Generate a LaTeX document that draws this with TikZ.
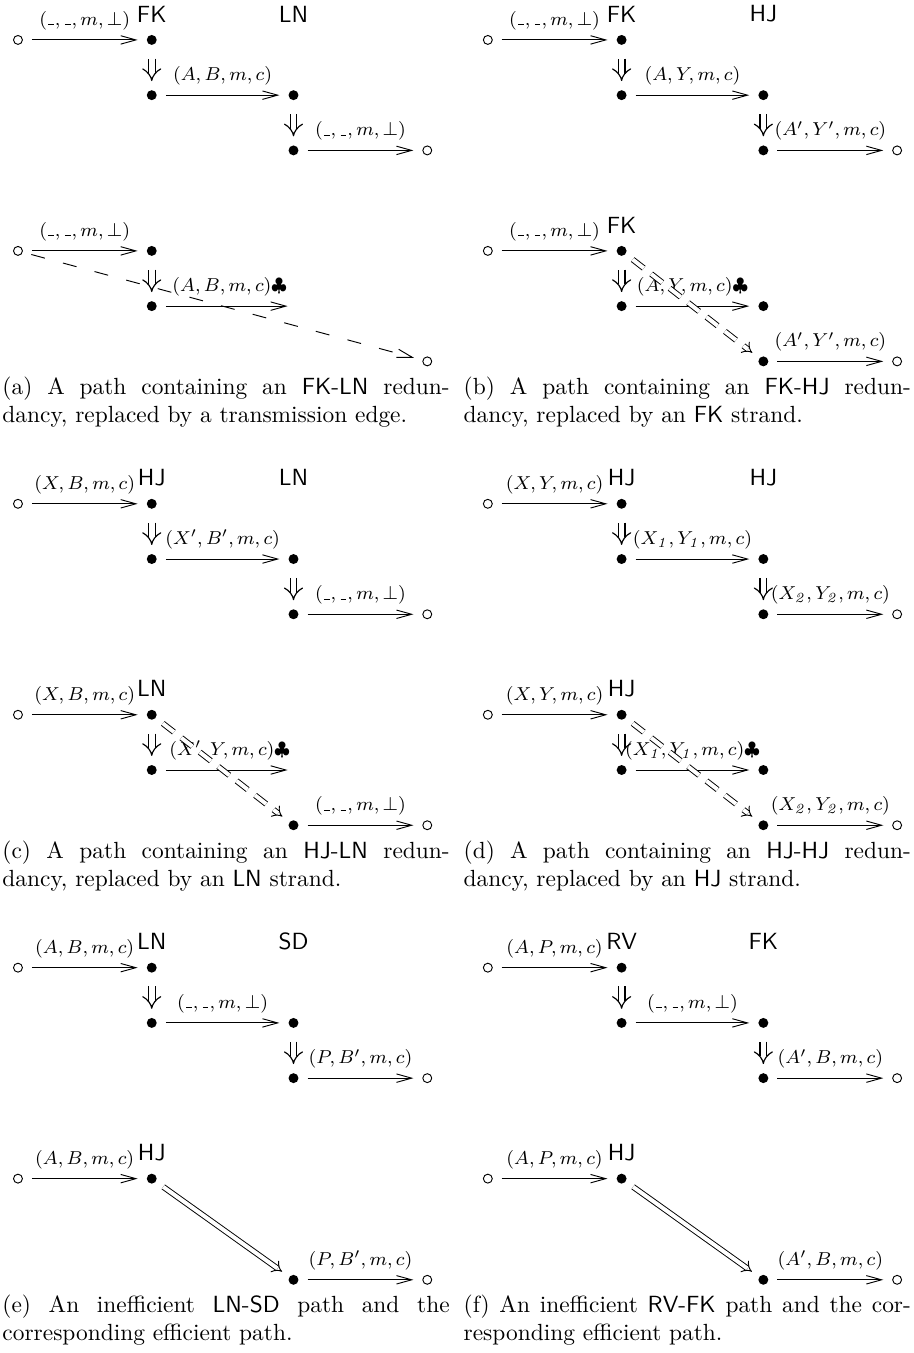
\documentclass[tikz,border=0pt]{standalone}
\usepackage{amsmath}
\usepackage{amssymb}
\usetikzlibrary{arrows.meta, positioning}

\newcommand{\wild}{\text{\kern.06em\rule{.3em}{.4pt}\kern.06em}}

\begin{document}
\begin{tikzpicture}[
        node distance=0.83cm and 2.01cm, on grid,
        dot/.style={fill, circle, inner sep=1.5pt, outer sep=3.9pt},
        hole/.style={draw, circle, inner sep=1.35pt, outer sep=4pt},
        tag/.style={font=\sffamily},
        lab/.style={above=2pt, font=\footnotesize, inner sep=2pt},
        link/.style={-{Straight Barb[length=6.5pt, width=3.6pt]}},
        imp/.style={double, line width=0.5pt, double distance=2.4pt, -{Implies}, shorten <=2pt},
        hop/.style={link, dash pattern=on 6pt off 8pt},
        strand/.style={double, double distance=1.7pt, -{Implies}},
        dstrand/.style={strand, dash pattern=on 6pt off 4pt},
        capt/.style={anchor=north west, inner sep=0pt, text width=6.72cm, align=justify}
    ]
    \useasboundingbox (0,0) rectangle (13.73,-20.33);

    % (a)
    \node[hole] (a0) at (0.27,-0.60) {};
    \node[dot, right=of a0] (a1) {}; \node[tag, above=0.39cm of a1] (a1t) {FK};
    \node[dot, below=of a1] (a2) {};
    \node[dot, right=2.13cm of a2] (a3) {}; \node[tag, above=1.22cm of a3] (a3t) {LN};
    \node[dot, below=of a3] (a4) {};
    \node[hole, right=of a4] (a5) {};
    \draw[link] (a0) -- node[lab] {$(\wild,\wild,m,\bot)$} (a1);
    \draw[imp] (a1) -- (a2);
    \draw[link] (a2) -- node[lab] {$(A,B,m,c)$} (a3);
    \draw[imp] (a3) -- (a4);
    \draw[link] (a4) -- node[lab] {$(\wild,\wild,m,\bot)$} (a5);

    \node[hole] (a6) at (0.27,-3.77) {};
    \node[dot, right=of a6] (a7) {};
    \node[dot, below=of a7] (a8) {};
    \coordinate[right=2.13cm of a8] (a9);
    \node[hole, below right=0.83cm and 4.14cm of a8] (a10) {};
    \draw[link] (a6) -- node[lab] {$(\wild,\wild,m,\bot)$} (a7);
    \draw[imp] (a7) -- (a8);
    \draw[link, shorten >=2.5pt] (a8) -- node[lab] {$(A,B,m,c)\clubsuit$} (a9);
    \draw[hop] (a6) -- (a10);
    \node[capt] (capa) at (0.03,-5.66) {(a) A path containing an \textsf{FK-LN} redun-\linebreak dancy, replaced by a transmission edge.};

    % (b)
    \node[hole] (b0) at (7.33,-0.60) {};
    \node[dot, right=of b0] (b1) {}; \node[tag, above=0.39cm of b1] (b1t) {FK};
    \node[dot, below=of b1] (b2) {};
    \node[dot, right=2.13cm of b2] (b3) {}; \node[tag, above=1.22cm of b3] (b3t) {HJ};
    \node[dot, below=of b3] (b4) {};
    \node[hole, right=of b4] (b5) {};
    \draw[link] (b0) -- node[lab] {$(\wild,\wild,m,\bot)$} (b1);
    \draw[imp] (b1) -- (b2);
    \draw[link] (b2) -- node[lab] {$(A, Y, m, c)$} (b3);
    \draw[imp] (b3) -- (b4);
    \draw[link] (b4) -- node[lab] {$(A', Y', m, c)$} (b5);

    \node[hole] (b6) at (7.33,-3.77) {};
    \node[dot, right=of b6] (b7) {}; \node[tag, above=0.39cm of b7] (b7t) {FK};
    \node[dot, below=of b7] (b8) {};
    \node[dot, right=2.13cm of b8] (b9) {};
    \node[dot, below=of b9] (b10) {};
    \node[hole, right=of b10] (b11) {};
    \draw[link] (b6) -- node[lab] {$(\wild,\wild,m,\bot)$} (b7);
    \draw[imp] (b7) -- (b8);
    \draw[link] (b8) -- node[lab] {$(A, Y, m, c)\clubsuit$} (b9);
    \draw[link] (b10) -- node[lab] {$(A', Y', m, c)$} (b11);
    \draw[dstrand] (b7) -- (b10);
    \node[capt] (capb) at (6.96,-5.66) {(b) A path containing an \textsf{FK-HJ} redun-\linebreak dancy, replaced by an \textsf{FK} strand.};

    % (c)
    \node[hole] (c0) at (0.27,-7.57) {};
    \node[dot, right=of c0] (c1) {}; \node[tag, above=0.39cm of c1] (c1t) {HJ};
    \node[dot, below=of c1] (c2) {};
    \node[dot, right=2.13cm of c2] (c3) {}; \node[tag, above=1.22cm of c3] (c3t) {LN};
    \node[dot, below=of c3] (c4) {};
    \node[hole, right=of c4] (c5) {};
    \draw[link] (c0) -- node[lab] {$(X,B,m,c)$} (c1);
    \draw[imp] (c1) -- (c2);
    \draw[link] (c2) -- node[lab] {$(X',B',m,c)$} (c3);
    \draw[imp] (c3) -- (c4);
    \draw[link] (c4) -- node[lab] {$(\wild,\wild,m,\bot)$} (c5);

    \node[hole] (c6) at (0.27,-10.74) {};
    \node[dot, right=of c6] (c7) {}; \node[tag, above=0.39cm of c7] (c7t) {LN};
    \node[dot, below=of c7] (c8) {};
    \coordinate[right=2.13cm of c8] (c9);
    \node[dot, below right=0.83cm and 2.13cm of c8] (c10) {};
    \node[hole, right=of c10] (c11) {};
    \draw[link] (c6) -- node[lab] {$(X,B,m,c)$} (c7);
    \draw[imp] (c7) -- (c8);
    \draw[link, shorten >=2.5pt] (c8) -- node[lab] {$(X', Y, m, c)\clubsuit$} (c9);
    \draw[link] (c10) -- node[lab] {$(\wild,\wild,m,\bot)$} (c11);
    \draw[dstrand] (c7) -- (c10);
    \node[capt] (capc) at (0.03,-12.63) {(c) A path containing an \textsf{HJ-LN} redun-\linebreak dancy, replaced by an \textsf{LN} strand.};

    % (d)
    \node[hole] (d0) at (7.33,-7.57) {};
    \node[dot, right=of d0] (d1) {}; \node[tag, above=0.39cm of d1] (d1t) {HJ};
    \node[dot, below=of d1] (d2) {};
    \node[dot, right=2.13cm of d2] (d3) {}; \node[tag, above=1.22cm of d3] (d3t) {HJ};
    \node[dot, below=of d3] (d4) {};
    \node[hole, right=of d4] (d5) {};
    \draw[link] (d0) -- node[lab] {$(X, Y, m, c)$} (d1);
    \draw[imp] (d1) -- (d2);
    \draw[link] (d2) -- node[lab] {$(X_{\mathit{1}}, Y_{\mathit{1}}, m, c)$} (d3);
    \draw[imp] (d3) -- (d4);
    \draw[link] (d4) -- node[lab] {$(X_{\mathit{2}}, Y_{\mathit{2}}, m, c)$} (d5);

    \node[hole] (d6) at (7.33,-10.74) {};
    \node[dot, right=of d6] (d7) {}; \node[tag, above=0.39cm of d7] (d7t) {HJ};
    \node[dot, below=of d7] (d8) {};
    \node[dot, right=2.13cm of d8] (d9) {};
    \node[dot, below=of d9] (d10) {};
    \node[hole, right=of d10] (d11) {};
    \draw[link] (d6) -- node[lab] {$(X, Y, m, c)$} (d7);
    \draw[imp] (d7) -- (d8);
    \draw[link] (d8) -- node[lab] {$(X_{\mathit{1}}, Y_{\mathit{1}}, m, c)\clubsuit$} (d9);
    \draw[link] (d10) -- node[lab] {$(X_{\mathit{2}}, Y_{\mathit{2}}, m, c)$} (d11);
    \draw[dstrand] (d7) -- (d10);
    \node[capt] (capd) at (6.96,-12.63) {(d) A path containing an \textsf{HJ-HJ} redun-\linebreak dancy, replaced by an \textsf{HJ} strand.};

    % (e)
    \node[hole] (e0) at (0.27,-14.54) {};
    \node[dot, right=of e0] (e1) {}; \node[tag, above=0.39cm of e1] (e1t) {LN};
    \node[dot, below=of e1] (e2) {};
    \node[dot, right=2.13cm of e2] (e3) {}; \node[tag, above=1.22cm of e3] (e3t) {SD};
    \node[dot, below=of e3] (e4) {};
    \node[hole, right=of e4] (e5) {};
    \draw[link] (e0) -- node[lab] {$(A,B,m,c)$} (e1);
    \draw[imp] (e1) -- (e2);
    \draw[link] (e2) -- node[lab] {$(\wild,\wild,m,\bot)$} (e3);
    \draw[imp] (e3) -- (e4);
    \draw[link] (e4) -- node[lab] {$(P,B',m,c)$} (e5);

    \node[hole] (e6) at (0.27,-17.71) {};
    \node[dot, right=of e6] (e7) {}; \node[tag, above=0.39cm of e7] (e7t) {HJ};
    \node[dot, below right=1.52cm and 2.13cm of e7] (e8) {};
    \node[hole, right=of e8] (e9) {};
    \draw[link] (e6) -- node[lab] {$(A,B,m,c)$} (e7);
    \draw[strand] (e7) -- (e8);
    \draw[link] (e8) -- node[lab] {$(P,B',m,c)$} (e9);
    \node[capt] (cape) at (0.03,-19.45) {(e) An inefficient \textsf{LN-SD} path and the\linebreak corresponding efficient path.};

    % (f)
    \node[hole] (f0) at (7.33,-14.54) {};
    \node[dot, right=of f0] (f1) {}; \node[tag, above=0.39cm of f1] (f1t) {RV};
    \node[dot, below=of f1] (f2) {};
    \node[dot, right=2.13cm of f2] (f3) {}; \node[tag, above=1.22cm of f3] (f3t) {FK};
    \node[dot, below=of f3] (f4) {};
    \node[hole, right=of f4] (f5) {};
    \draw[link] (f0) -- node[lab] {$(A,P,m,c)$} (f1);
    \draw[imp] (f1) -- (f2);
    \draw[link] (f2) -- node[lab] {$(\wild,\wild,m,\bot)$} (f3);
    \draw[imp] (f3) -- (f4);
    \draw[link] (f4) -- node[lab] {$(A',B,m,c)$} (f5);

    \node[hole] (f6) at (7.33,-17.71) {};
    \node[dot, right=of f6] (f7) {}; \node[tag, above=0.39cm of f7] (f7t) {HJ};
    \node[dot, below right=1.52cm and 2.13cm of f7] (f8) {};
    \node[hole, right=of f8] (f9) {};
    \draw[link] (f6) -- node[lab] {$(A,P,m,c)$} (f7);
    \draw[strand] (f7) -- (f8);
    \draw[link] (f8) -- node[lab] {$(A',B,m,c)$} (f9);
    \node[capt] (capf) at (6.96,-19.45) {(f) An inefficient \textsf{RV-FK} path and the cor-\linebreak responding efficient path.};
\end{tikzpicture}
\end{document}
